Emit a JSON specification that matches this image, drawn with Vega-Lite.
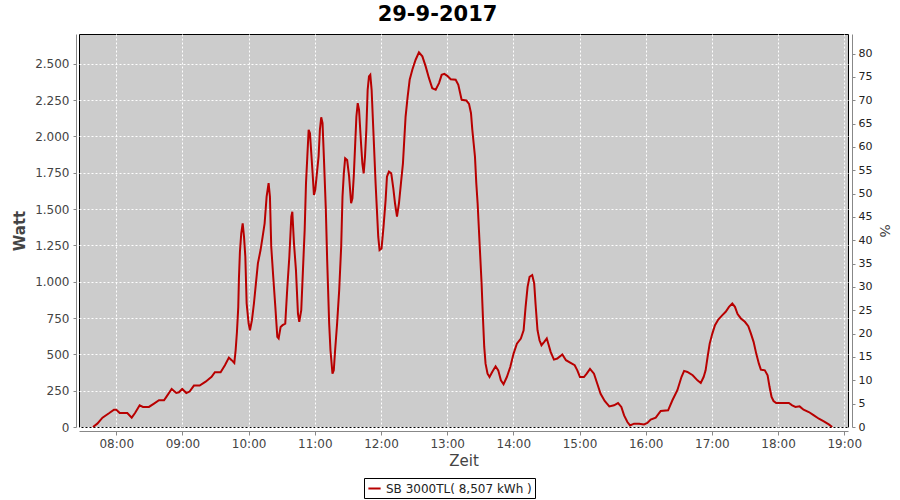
{
  "$schema": "https://vega.github.io/schema/vega-lite/v6.json",
  "width": 769,
  "height": 393,
  "autosize": {"type": "none"},
  "padding": {"left": 79, "top": 34, "right": 52, "bottom": 73},
  "background": "white",
  "title": {"text": "29-9-2017", "font": "DejaVu Sans", "fontSize": 21, "fontWeight": "bold", "color": "#000000", "anchor": "middle", "frame": "group", "offset": 9, "dx": -26},
  "config": {
    "view": {"fill": "#CCCCCC", "stroke": "#000000", "strokeWidth": 1},
    "axis": {"labelFont": "DejaVu Sans", "titleFont": "DejaVu Sans", "labelColor": "#444444", "titleColor": "#444444", "domainColor": "#888888", "tickColor": "#888888", "gridColor": "#FFFFFF", "gridDash": [2, 2], "gridWidth": 1, "gridOpacity": 1}
  },
  "datasets": {
    "pv": [
      {"t": "2017-09-29T07:38:54", "w": 0},
      {"t": "2017-09-29T07:42:48", "w": 23},
      {"t": "2017-09-29T07:47:30", "w": 64},
      {"t": "2017-09-29T07:53:42", "w": 96},
      {"t": "2017-09-29T07:57:54", "w": 119},
      {"t": "2017-09-29T08:00:00", "w": 119},
      {"t": "2017-09-29T08:03:06", "w": 96},
      {"t": "2017-09-29T08:10:00", "w": 96},
      {"t": "2017-09-29T08:14:00", "w": 64},
      {"t": "2017-09-29T08:17:00", "w": 96},
      {"t": "2017-09-29T08:21:12", "w": 149},
      {"t": "2017-09-29T08:24:12", "w": 138},
      {"t": "2017-09-29T08:29:36", "w": 138},
      {"t": "2017-09-29T08:34:12", "w": 161},
      {"t": "2017-09-29T08:38:42", "w": 184},
      {"t": "2017-09-29T08:43:18", "w": 184},
      {"t": "2017-09-29T08:45:24", "w": 207},
      {"t": "2017-09-29T08:50:12", "w": 262},
      {"t": "2017-09-29T08:54:24", "w": 234},
      {"t": "2017-09-29T08:56:48", "w": 239},
      {"t": "2017-09-29T08:59:48", "w": 262},
      {"t": "2017-09-29T09:03:30", "w": 234},
      {"t": "2017-09-29T09:06:30", "w": 244},
      {"t": "2017-09-29T09:10:24", "w": 285},
      {"t": "2017-09-29T09:15:36", "w": 285},
      {"t": "2017-09-29T09:21:00", "w": 312},
      {"t": "2017-09-29T09:26:24", "w": 345},
      {"t": "2017-09-29T09:29:24", "w": 377},
      {"t": "2017-09-29T09:34:36", "w": 377},
      {"t": "2017-09-29T09:38:30", "w": 425},
      {"t": "2017-09-29T09:42:06", "w": 478},
      {"t": "2017-09-29T09:44:36", "w": 460},
      {"t": "2017-09-29T09:47:00", "w": 441},
      {"t": "2017-09-29T09:48:12", "w": 528},
      {"t": "2017-09-29T09:49:24", "w": 654},
      {"t": "2017-09-29T09:50:36", "w": 827},
      {"t": "2017-09-29T09:51:12", "w": 1022},
      {"t": "2017-09-29T09:52:06", "w": 1206},
      {"t": "2017-09-29T09:53:18", "w": 1333},
      {"t": "2017-09-29T09:54:36", "w": 1402},
      {"t": "2017-09-29T09:55:48", "w": 1310},
      {"t": "2017-09-29T09:57:00", "w": 1172},
      {"t": "2017-09-29T09:58:12", "w": 850},
      {"t": "2017-09-29T10:00:00", "w": 712},
      {"t": "2017-09-29T10:01:12", "w": 666},
      {"t": "2017-09-29T10:03:00", "w": 735},
      {"t": "2017-09-29T10:04:48", "w": 850},
      {"t": "2017-09-29T10:06:36", "w": 988},
      {"t": "2017-09-29T10:08:24", "w": 1126},
      {"t": "2017-09-29T10:10:48", "w": 1218},
      {"t": "2017-09-29T10:12:42", "w": 1310},
      {"t": "2017-09-29T10:14:30", "w": 1402},
      {"t": "2017-09-29T10:16:18", "w": 1586},
      {"t": "2017-09-29T10:18:06", "w": 1678},
      {"t": "2017-09-29T10:19:18", "w": 1586},
      {"t": "2017-09-29T10:20:30", "w": 1241},
      {"t": "2017-09-29T10:22:18", "w": 1034},
      {"t": "2017-09-29T10:24:12", "w": 827},
      {"t": "2017-09-29T10:26:00", "w": 620},
      {"t": "2017-09-29T10:27:12", "w": 609},
      {"t": "2017-09-29T10:29:00", "w": 689},
      {"t": "2017-09-29T10:30:48", "w": 701},
      {"t": "2017-09-29T10:33:12", "w": 712},
      {"t": "2017-09-29T10:35:06", "w": 965},
      {"t": "2017-09-29T10:36:54", "w": 1172},
      {"t": "2017-09-29T10:38:42", "w": 1448},
      {"t": "2017-09-29T10:39:36", "w": 1482},
      {"t": "2017-09-29T10:41:06", "w": 1264},
      {"t": "2017-09-29T10:42:54", "w": 1080},
      {"t": "2017-09-29T10:44:42", "w": 781},
      {"t": "2017-09-29T10:45:54", "w": 724},
      {"t": "2017-09-29T10:47:42", "w": 804},
      {"t": "2017-09-29T10:49:30", "w": 1126},
      {"t": "2017-09-29T10:50:48", "w": 1356},
      {"t": "2017-09-29T10:52:00", "w": 1678},
      {"t": "2017-09-29T10:53:12", "w": 1861},
      {"t": "2017-09-29T10:54:24", "w": 2045},
      {"t": "2017-09-29T10:55:36", "w": 2022},
      {"t": "2017-09-29T10:56:48", "w": 1884},
      {"t": "2017-09-29T10:58:00", "w": 1746},
      {"t": "2017-09-29T10:59:12", "w": 1597},
      {"t": "2017-09-29T11:00:24", "w": 1632},
      {"t": "2017-09-29T11:01:36", "w": 1723},
      {"t": "2017-09-29T11:03:24", "w": 1861},
      {"t": "2017-09-29T11:04:36", "w": 2045},
      {"t": "2017-09-29T11:05:48", "w": 2132},
      {"t": "2017-09-29T11:07:00", "w": 2091},
      {"t": "2017-09-29T11:08:12", "w": 1861},
      {"t": "2017-09-29T11:10:00", "w": 1494},
      {"t": "2017-09-29T11:11:12", "w": 1149},
      {"t": "2017-09-29T11:13:00", "w": 712},
      {"t": "2017-09-29T11:14:12", "w": 528},
      {"t": "2017-09-29T11:16:00", "w": 367},
      {"t": "2017-09-29T11:17:12", "w": 390},
      {"t": "2017-09-29T11:18:24", "w": 528},
      {"t": "2017-09-29T11:20:12", "w": 712},
      {"t": "2017-09-29T11:22:06", "w": 942},
      {"t": "2017-09-29T11:23:54", "w": 1241},
      {"t": "2017-09-29T11:25:06", "w": 1586},
      {"t": "2017-09-29T11:26:18", "w": 1746},
      {"t": "2017-09-29T11:27:30", "w": 1850},
      {"t": "2017-09-29T11:29:18", "w": 1838},
      {"t": "2017-09-29T11:31:06", "w": 1723},
      {"t": "2017-09-29T11:32:54", "w": 1540},
      {"t": "2017-09-29T11:34:06", "w": 1574},
      {"t": "2017-09-29T11:35:18", "w": 1723},
      {"t": "2017-09-29T11:36:30", "w": 1930},
      {"t": "2017-09-29T11:37:42", "w": 2137},
      {"t": "2017-09-29T11:38:54", "w": 2229},
      {"t": "2017-09-29T11:40:06", "w": 2183},
      {"t": "2017-09-29T11:41:54", "w": 1953},
      {"t": "2017-09-29T11:43:06", "w": 1815},
      {"t": "2017-09-29T11:44:18", "w": 1746},
      {"t": "2017-09-29T11:45:30", "w": 1861},
      {"t": "2017-09-29T11:46:42", "w": 2045},
      {"t": "2017-09-29T11:47:54", "w": 2321},
      {"t": "2017-09-29T11:49:06", "w": 2413},
      {"t": "2017-09-29T11:50:18", "w": 2424},
      {"t": "2017-09-29T11:51:30", "w": 2321},
      {"t": "2017-09-29T11:53:18", "w": 1999},
      {"t": "2017-09-29T11:55:06", "w": 1678},
      {"t": "2017-09-29T11:56:18", "w": 1494},
      {"t": "2017-09-29T11:57:30", "w": 1310},
      {"t": "2017-09-29T11:58:42", "w": 1218},
      {"t": "2017-09-29T12:00:30", "w": 1229},
      {"t": "2017-09-29T12:02:18", "w": 1379},
      {"t": "2017-09-29T12:04:12", "w": 1563},
      {"t": "2017-09-29T12:05:24", "w": 1723},
      {"t": "2017-09-29T12:07:12", "w": 1758},
      {"t": "2017-09-29T12:09:18", "w": 1746},
      {"t": "2017-09-29T12:11:12", "w": 1640},
      {"t": "2017-09-29T12:12:42", "w": 1540},
      {"t": "2017-09-29T12:14:30", "w": 1448},
      {"t": "2017-09-29T12:16:18", "w": 1540},
      {"t": "2017-09-29T12:18:06", "w": 1678},
      {"t": "2017-09-29T12:19:54", "w": 1815},
      {"t": "2017-09-29T12:21:06", "w": 1976},
      {"t": "2017-09-29T12:22:18", "w": 2137},
      {"t": "2017-09-29T12:24:12", "w": 2275},
      {"t": "2017-09-29T12:26:00", "w": 2390},
      {"t": "2017-09-29T12:28:24", "w": 2459},
      {"t": "2017-09-29T12:31:24", "w": 2528},
      {"t": "2017-09-29T12:34:24", "w": 2578},
      {"t": "2017-09-29T12:37:30", "w": 2551},
      {"t": "2017-09-29T12:40:30", "w": 2482},
      {"t": "2017-09-29T12:43:30", "w": 2401},
      {"t": "2017-09-29T12:46:30", "w": 2332},
      {"t": "2017-09-29T12:49:36", "w": 2321},
      {"t": "2017-09-29T12:52:36", "w": 2367},
      {"t": "2017-09-29T12:55:00", "w": 2424},
      {"t": "2017-09-29T12:57:24", "w": 2431},
      {"t": "2017-09-29T13:00:06", "w": 2417},
      {"t": "2017-09-29T13:03:12", "w": 2394},
      {"t": "2017-09-29T13:07:42", "w": 2390},
      {"t": "2017-09-29T13:10:06", "w": 2355},
      {"t": "2017-09-29T13:13:06", "w": 2252},
      {"t": "2017-09-29T13:17:24", "w": 2247},
      {"t": "2017-09-29T13:19:48", "w": 2224},
      {"t": "2017-09-29T13:21:36", "w": 2160},
      {"t": "2017-09-29T13:22:48", "w": 2045},
      {"t": "2017-09-29T13:24:00", "w": 1953},
      {"t": "2017-09-29T13:25:12", "w": 1861},
      {"t": "2017-09-29T13:26:24", "w": 1678},
      {"t": "2017-09-29T13:27:36", "w": 1540},
      {"t": "2017-09-29T13:28:48", "w": 1356},
      {"t": "2017-09-29T13:30:00", "w": 1172},
      {"t": "2017-09-29T13:31:12", "w": 988},
      {"t": "2017-09-29T13:32:24", "w": 758},
      {"t": "2017-09-29T13:33:36", "w": 551},
      {"t": "2017-09-29T13:34:48", "w": 436},
      {"t": "2017-09-29T13:36:36", "w": 367},
      {"t": "2017-09-29T13:38:24", "w": 344},
      {"t": "2017-09-29T13:40:48", "w": 379},
      {"t": "2017-09-29T13:43:54", "w": 418},
      {"t": "2017-09-29T13:46:18", "w": 390},
      {"t": "2017-09-29T13:48:42", "w": 321},
      {"t": "2017-09-29T13:51:06", "w": 294},
      {"t": "2017-09-29T13:54:06", "w": 344},
      {"t": "2017-09-29T13:57:12", "w": 413},
      {"t": "2017-09-29T14:00:12", "w": 505},
      {"t": "2017-09-29T14:03:12", "w": 574},
      {"t": "2017-09-29T14:06:48", "w": 609},
      {"t": "2017-09-29T14:09:18", "w": 666},
      {"t": "2017-09-29T14:11:06", "w": 827},
      {"t": "2017-09-29T14:12:54", "w": 965},
      {"t": "2017-09-29T14:14:42", "w": 1034},
      {"t": "2017-09-29T14:17:06", "w": 1046},
      {"t": "2017-09-29T14:18:54", "w": 988},
      {"t": "2017-09-29T14:20:06", "w": 850},
      {"t": "2017-09-29T14:21:54", "w": 666},
      {"t": "2017-09-29T14:23:42", "w": 597},
      {"t": "2017-09-29T14:25:30", "w": 563},
      {"t": "2017-09-29T14:28:00", "w": 586},
      {"t": "2017-09-29T14:30:18", "w": 609},
      {"t": "2017-09-29T14:32:06", "w": 563},
      {"t": "2017-09-29T14:33:48", "w": 517},
      {"t": "2017-09-29T14:36:48", "w": 464},
      {"t": "2017-09-29T14:39:48", "w": 471},
      {"t": "2017-09-29T14:44:24", "w": 499},
      {"t": "2017-09-29T14:47:42", "w": 460},
      {"t": "2017-09-29T14:51:54", "w": 441},
      {"t": "2017-09-29T14:55:36", "w": 425},
      {"t": "2017-09-29T14:58:00", "w": 390},
      {"t": "2017-09-29T15:00:24", "w": 344},
      {"t": "2017-09-29T15:04:00", "w": 344},
      {"t": "2017-09-29T15:06:30", "w": 367},
      {"t": "2017-09-29T15:09:30", "w": 400},
      {"t": "2017-09-29T15:13:06", "w": 367},
      {"t": "2017-09-29T15:16:06", "w": 298},
      {"t": "2017-09-29T15:19:06", "w": 229},
      {"t": "2017-09-29T15:22:48", "w": 179},
      {"t": "2017-09-29T15:27:00", "w": 142},
      {"t": "2017-09-29T15:31:18", "w": 149},
      {"t": "2017-09-29T15:34:54", "w": 165},
      {"t": "2017-09-29T15:37:54", "w": 138},
      {"t": "2017-09-29T15:40:24", "w": 80},
      {"t": "2017-09-29T15:43:24", "w": 34},
      {"t": "2017-09-29T15:45:48", "w": 11},
      {"t": "2017-09-29T15:49:24", "w": 23},
      {"t": "2017-09-29T15:54:00", "w": 23},
      {"t": "2017-09-29T15:58:30", "w": 18},
      {"t": "2017-09-29T16:01:30", "w": 28},
      {"t": "2017-09-29T16:04:30", "w": 51},
      {"t": "2017-09-29T16:09:06", "w": 64},
      {"t": "2017-09-29T16:13:36", "w": 110},
      {"t": "2017-09-29T16:20:18", "w": 115},
      {"t": "2017-09-29T16:24:12", "w": 184},
      {"t": "2017-09-29T16:28:42", "w": 253},
      {"t": "2017-09-29T16:32:24", "w": 344},
      {"t": "2017-09-29T16:34:48", "w": 386},
      {"t": "2017-09-29T16:37:48", "w": 379},
      {"t": "2017-09-29T16:42:36", "w": 356},
      {"t": "2017-09-29T16:46:54", "w": 321},
      {"t": "2017-09-29T16:49:54", "w": 303},
      {"t": "2017-09-29T16:52:30", "w": 344},
      {"t": "2017-09-29T16:54:18", "w": 390},
      {"t": "2017-09-29T16:56:06", "w": 482},
      {"t": "2017-09-29T16:58:00", "w": 574},
      {"t": "2017-09-29T17:00:24", "w": 643},
      {"t": "2017-09-29T17:02:48", "w": 701},
      {"t": "2017-09-29T17:05:48", "w": 740},
      {"t": "2017-09-29T17:09:30", "w": 770},
      {"t": "2017-09-29T17:12:30", "w": 793},
      {"t": "2017-09-29T17:15:30", "w": 827},
      {"t": "2017-09-29T17:18:30", "w": 850},
      {"t": "2017-09-29T17:20:54", "w": 827},
      {"t": "2017-09-29T17:23:18", "w": 777},
      {"t": "2017-09-29T17:26:18", "w": 747},
      {"t": "2017-09-29T17:29:54", "w": 724},
      {"t": "2017-09-29T17:33:00", "w": 694},
      {"t": "2017-09-29T17:35:24", "w": 643},
      {"t": "2017-09-29T17:37:48", "w": 586},
      {"t": "2017-09-29T17:40:12", "w": 505},
      {"t": "2017-09-29T17:42:36", "w": 436},
      {"t": "2017-09-29T17:44:24", "w": 395},
      {"t": "2017-09-29T17:48:00", "w": 390},
      {"t": "2017-09-29T17:50:30", "w": 356},
      {"t": "2017-09-29T17:52:18", "w": 275},
      {"t": "2017-09-29T17:54:06", "w": 207},
      {"t": "2017-09-29T17:55:54", "w": 179},
      {"t": "2017-09-29T17:58:18", "w": 165},
      {"t": "2017-09-29T18:03:48", "w": 165},
      {"t": "2017-09-29T18:09:48", "w": 165},
      {"t": "2017-09-29T18:12:48", "w": 149},
      {"t": "2017-09-29T18:15:48", "w": 138},
      {"t": "2017-09-29T18:19:30", "w": 142},
      {"t": "2017-09-29T18:23:06", "w": 119},
      {"t": "2017-09-29T18:27:54", "w": 103},
      {"t": "2017-09-29T18:32:30", "w": 80},
      {"t": "2017-09-29T18:37:00", "w": 57},
      {"t": "2017-09-29T18:41:30", "w": 39},
      {"t": "2017-09-29T18:46:00", "w": 18},
      {"t": "2017-09-29T18:49:06", "w": 0}
    ],
    "pct": [{"p": 0}, {"p": 80}]
  },
  "layer": [
    {
      "data": {"name": "pv"},
      "mark": {"type": "line", "strokeWidth": 2},
      "encoding": {
        "x": {
          "field": "t", "type": "temporal", "title": "Zeit",
          "scale": {"domain": [{"year": 2017, "month": 9, "date": 29, "hours": 7, "minutes": 26, "seconds": 12}, {"year": 2017, "month": 9, "date": 29, "hours": 19, "minutes": 3, "seconds": 24}]},
          "axis": {
            "format": "%H:%M",
            "values": [
              {"year": 2017, "month": 9, "date": 29, "hours": 8},
              {"year": 2017, "month": 9, "date": 29, "hours": 9},
              {"year": 2017, "month": 9, "date": 29, "hours": 10},
              {"year": 2017, "month": 9, "date": 29, "hours": 11},
              {"year": 2017, "month": 9, "date": 29, "hours": 12},
              {"year": 2017, "month": 9, "date": 29, "hours": 13},
              {"year": 2017, "month": 9, "date": 29, "hours": 14},
              {"year": 2017, "month": 9, "date": 29, "hours": 15},
              {"year": 2017, "month": 9, "date": 29, "hours": 16},
              {"year": 2017, "month": 9, "date": 29, "hours": 17},
              {"year": 2017, "month": 9, "date": 29, "hours": 18},
              {"year": 2017, "month": 9, "date": 29, "hours": 19}
            ],
            "labelFontSize": 12, "labelFlush": false, "labelOverlap": false, "offset": 4, "tickSize": 4, "labelPadding": 3, "titleFontSize": 15, "titleFontWeight": "normal", "titlePadding": 4, "grid": true}
        },
        "y": {
          "field": "w", "type": "quantitative", "title": "Watt",
          "scale": {"domain": [0, 2705], "nice": false},
          "axis": {"values": [0, 250, 500, 750, 1000, 1250, 1500, 1750, 2000, 2250, 2500], "labelExpr": "replace(datum.label, ',', '.')", "labelFontSize": 12, "offset": 3, "tickSize": 3, "labelPadding": 4, "titleFontSize": 15, "titleFontWeight": "bold", "titlePadding": 7, "grid": true, "orient": "left"}
        },
        "color": {
          "datum": "SB 3000TL( 8,507 kWh )",
          "scale": {"range": ["#B80000"]},
          "legend": {"title": null, "orient": "none", "legendX": 285, "legendY": 444, "strokeColor": "#000000", "padding": 3, "symbolType": "stroke", "symbolStrokeWidth": 2, "symbolSize": 150, "labelFont": "DejaVu Sans", "labelFontSize": 12, "labelColor": "#222222", "labelLimit": 300}
        }
      }
    },
    {
      "data": {"name": "pct"},
      "mark": {"type": "rule", "opacity": 0},
      "encoding": {
        "y": {
          "field": "p", "type": "quantitative", "title": "%",
          "scale": {"domain": [0, 84.2], "nice": false},
          "axis": {"orient": "right", "values": [0, 5, 10, 15, 20, 25, 30, 35, 40, 45, 50, 55, 60, 65, 70, 75, 80], "grid": false, "offset": 4, "tickSize": 3, "labelPadding": 3, "labelFontSize": 11, "labelColor": "#222222", "titleFontSize": 14, "titleFontWeight": "normal", "titlePadding": 5}
        }
      }
    }
  ],
  "resolve": {"scale": {"y": "independent"}, "axis": {"y": "independent"}}
}
